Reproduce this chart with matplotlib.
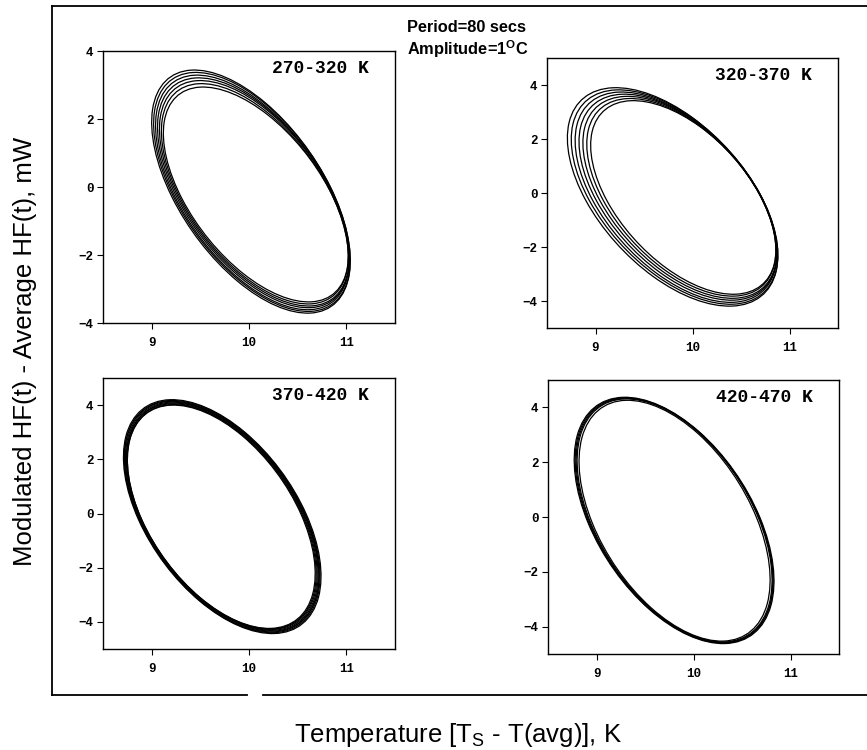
import numpy as np
import matplotlib
matplotlib.use('Agg')
import matplotlib.pyplot as plt
from matplotlib.patches import Ellipse
from matplotlib.lines import Line2D

plt.rcParams['mathtext.default'] = 'regular'

# ---------------- data ----------------
panel_labels = ['270-320 K', '320-370 K', '370-420 K', '420-470 K']

# extremes of each loop (outermost loop first)
p1_xmin = [9.00, 9.02, 9.04, 9.06, 9.08, 9.10, 9.12]
p1_xmax = [11.04, 11.04, 11.03, 11.03, 11.03, 11.02, 11.02]
p1_ymax = [3.44, 3.37, 3.29, 3.21, 3.13, 3.04, 2.94]
p1_ymin = [-3.71, -3.66, -3.61, -3.55, -3.50, -3.44, -3.38]

p2_xmin = [8.71, 8.75, 8.79, 8.83, 8.87, 8.91, 8.95]
p2_xmax = [10.88, 10.88, 10.87, 10.87, 10.87, 10.86, 10.86]
p2_ymax = [3.90, 3.82, 3.74, 3.66, 3.58, 3.50, 3.42]
p2_ymin = [-4.19, -4.12, -4.05, -3.97, -3.90, -3.82, -3.75]

p3_xmin = [8.71, 8.72, 8.72, 8.73, 8.74, 8.74, 8.75, 8.75]
p3_xmax = [10.74, 10.73, 10.72, 10.72, 10.71, 10.70, 10.69, 10.68]
p3_ymax = [4.20, 4.17, 4.14, 4.11, 4.08, 4.05, 4.02, 4.00]
p3_ymin = [-4.43, -4.40, -4.37, -4.34, -4.31, -4.28, -4.26, -4.24]

p4_xmin = [8.77, 8.78, 8.79, 8.80, 8.82]
p4_xmax = [10.83, 10.82, 10.82, 10.81, 10.79]
p4_ymax = [4.37, 4.35, 4.33, 4.31, 4.26]
p4_ymin = [-4.62, -4.60, -4.58, -4.56, -4.53]

# position of the outer loop's extreme points (x at top / bottom, y at left / right)
x_top = [9.37, 9.14, 9.19, 9.25]
x_bottom = [10.50, 10.31, 10.22, 10.32]
y_left = [2.10, 2.35, 1.98, 2.17]
y_right = [-2.09, -2.00, -2.42, -2.00]

x_ticks = [9, 10, 11]
y_ticks = [-4, -2, 0, 2, 4]
x_range = (8.5, 11.5)
y_ranges = [(-4, 4), (-5, 5), (-5, 5), (-5, 5)]

loops = [
    (p1_xmin, p1_xmax, p1_ymin, p1_ymax),
    (p2_xmin, p2_xmax, p2_ymin, p2_ymax),
    (p3_xmin, p3_xmax, p3_ymin, p3_ymax),
    (p4_xmin, p4_xmax, p4_ymin, p4_ymax),
]

# ---------------- layout ----------------
W, H = 867, 750
fig = plt.figure(figsize=(W / 100, H / 100), dpi=100)

# axes boxes in pixels: left, right, top, bottom
boxes = [(103, 395, 51, 323), (547, 838, 58, 328),
         (103, 395, 378, 649), (548, 839, 380, 654)]

mono = 'Liberation Mono'
sans = 'Liberation Sans'

for i, (l, r, t, b) in enumerate(boxes):
    ax = fig.add_axes([l / W, 1 - b / H, (r - l) / W, (b - t) / H])
    xmin, xmax, ymin, ymax = loops[i]
    cx0 = (xmin[0] + xmax[0]) / 2
    ax0 = (xmax[0] - xmin[0]) / 2
    cy0 = (ymin[0] + ymax[0]) / 2
    ay0 = (ymax[0] - ymin[0]) / 2
    c = np.mean([(x_top[i] - cx0) / ax0, -(x_bottom[i] - cx0) / ax0,
                 (y_right[i] - cy0) / ay0, -(y_left[i] - cy0) / ay0])
    for k in range(len(xmin)):
        cx = (xmin[k] + xmax[k]) / 2
        axx = (xmax[k] - xmin[k]) / 2
        cy = (ymin[k] + ymax[k]) / 2
        ayy = (ymax[k] - ymin[k]) / 2
        S = np.array([[axx ** 2, axx * ayy * c], [axx * ayy * c, ayy ** 2]])
        vals, vecs = np.linalg.eigh(S)
        ang = np.degrees(np.arctan2(vecs[1, 1], vecs[0, 1]))
        e = Ellipse((cx, cy), 2 * np.sqrt(vals[1]), 2 * np.sqrt(vals[0]),
                    angle=ang, fill=False, edgecolor='black', lw=0.9)
        ax.add_patch(e)
    ax.set_xlim(*x_range)
    ax.set_ylim(*y_ranges[i])
    ax.set_xticks(x_ticks)
    ax.set_yticks(y_ticks)
    ax.tick_params(direction='out', length=4, width=0.8, labelsize=9)
    ax.tick_params(axis='x', pad=6)
    ax.tick_params(axis='y', pad=3)
    for lab in ax.get_xticklabels() + ax.get_yticklabels():
        lab.set_fontfamily(mono)
        lab.set_fontweight('bold')
    for s in ax.spines.values():
        s.set_linewidth(1.0)
    ax.text(0.91, 0.935, panel_labels[i], transform=ax.transAxes,
            ha='right', va='center', fontsize=13, fontfamily=mono,
            fontweight='bold')

# outer frame
fx = 52 / W
fy_top = 1 - 6 / H
fy_bot = 1 - 695 / H
for xs, ys in [([fx, fx], [fy_top, fy_bot]),
               ([fx, 1.0], [fy_top, fy_top]),
               ([fx, 247 / W], [fy_bot, fy_bot]),
               ([263 / W, 1.0], [fy_bot, fy_bot])]:
    fig.add_artist(Line2D(xs, ys, transform=fig.transFigure,
                          color='black', lw=1.3))

fig.text(407 / W, 1 - 28 / H, 'Period=80 secs', ha='left', va='center',
         fontsize=11.8, fontfamily=sans, fontweight='bold')
fig.text(407 / W, 1 - 49 / H, 'Amplitude=1$^{O}$C', ha='left', va='center',
         fontsize=11.8, fontfamily=sans, fontweight='bold')

fig.text(25 / W, 1 - 351 / H, 'Modulated HF(t) - Average HF(t), mW',
         rotation=90, ha='center', va='center', fontsize=18.5, fontfamily=sans)
fig.text(458 / W, 1 - 742 / H, 'Temperature [T$_{S}$ - T(avg)], K',
         ha='center', va='baseline', fontsize=18.5, fontfamily=sans)

fig.savefig('out.png', dpi=100)
